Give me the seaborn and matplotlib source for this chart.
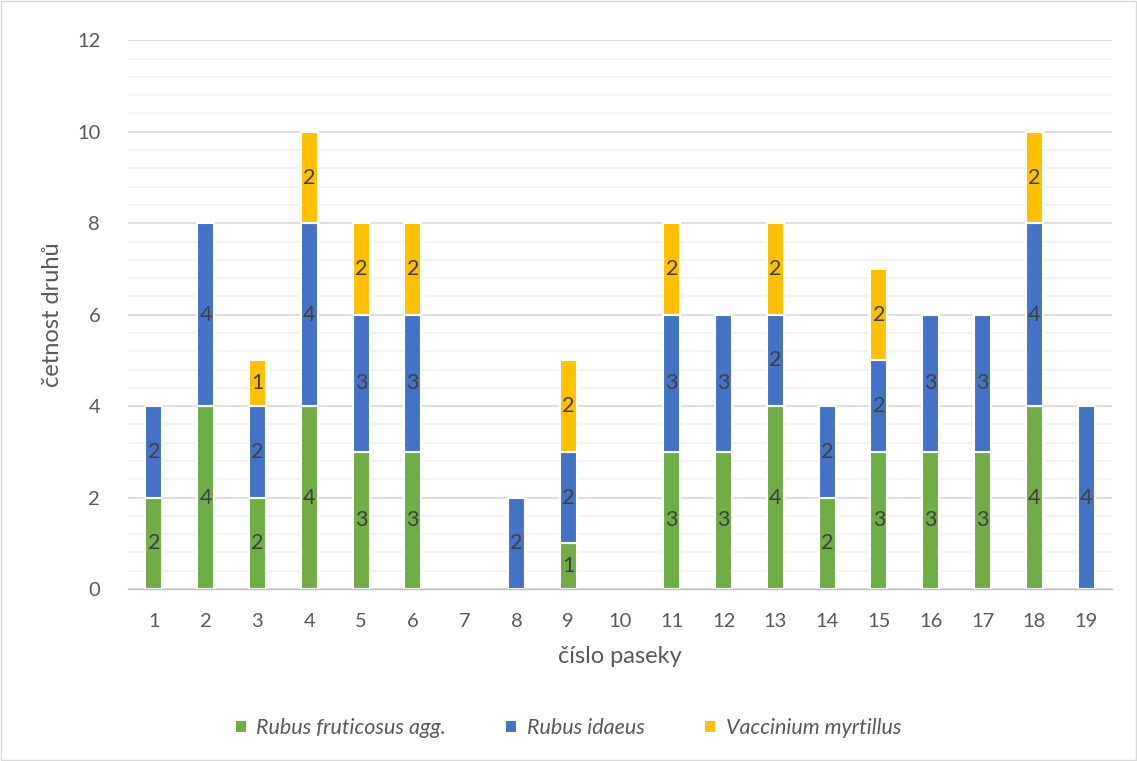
import numpy as np
import pandas as pd
import seaborn as sns
import matplotlib.pyplot as plt
from matplotlib.patches import Patch, Rectangle
from matplotlib.ticker import MultipleLocator, FixedLocator, NullFormatter

paseky = list(range(1, 20))
fruticosus = [2, 4, 2, 4, 3, 3, 0, 0, 1, 0, 3, 3, 4, 2, 3, 3, 3, 4, 0]
idaeus = [2, 4, 2, 4, 3, 3, 0, 2, 2, 0, 3, 3, 2, 2, 2, 3, 3, 4, 4]
myrtillus = [0, 0, 1, 2, 2, 2, 0, 0, 2, 0, 2, 0, 2, 0, 2, 0, 0, 2, 0]
druhy = ['Rubus fruticosus agg.', 'Rubus idaeus', 'Vaccinium myrtillus']
barvy = ['#70AD47', '#4472C4', '#FFC000']

df = pd.concat([
    pd.DataFrame({'paseka': paseky, 'pocet': fruticosus, 'druh': druhy[0]}),
    pd.DataFrame({'paseka': paseky, 'pocet': idaeus, 'druh': druhy[1]}),
    pd.DataFrame({'paseka': paseky, 'pocet': myrtillus, 'druh': druhy[2]}),
])

sns.set_style('white')
plt.rcParams['font.family'] = ['Lato', 'DejaVu Sans']
seda = '#595959'

fig = plt.figure(figsize=(11.37, 7.61), dpi=100)
ax = fig.add_axes([0.1126, 0.226, 0.8654, 0.721])

# seaborn stacks the last hue level at the bottom
sns.histplot(data=df, x='paseka', weights='pocet', hue='druh',
             hue_order=druhy[::-1], palette=dict(zip(druhy, barvy)),
             multiple='stack', discrete=True, shrink=0.33, alpha=1,
             edgecolor='white', linewidth=1.5, legend=False, ax=ax)

for cont in ax.containers:
    labs = []
    for p in cont:
        if p.get_height() > 0:
            labs.append(str(int(round(p.get_height()))))
        else:
            p.set_visible(False)
            labs.append('')
    ax.bar_label(cont, labels=labs, label_type='center', color='#404040', fontsize=15.5)

ax.set_xlim(0.5, 19.5)
ax.set_ylim(0, 12)
ax.yaxis.set_major_locator(MultipleLocator(2))
ax.yaxis.set_minor_locator(MultipleLocator(0.4))
ax.grid(which='major', axis='y', color='#D9D9D9', linewidth=1.2)
ax.grid(which='minor', axis='y', color='#F2F2F2', linewidth=1.2)
ax.set_axisbelow(True)

ax.set_xticks(paseky)
ax.xaxis.set_minor_locator(FixedLocator(np.arange(0.5, 20, 1)))
ax.xaxis.set_minor_formatter(NullFormatter())
ax.tick_params(axis='x', which='major', length=0, pad=17, labelsize=14.5, labelcolor=seda)
ax.tick_params(axis='x', which='minor', length=8, color='#BFBFBF', width=1)
ax.tick_params(axis='y', which='both', length=0, pad=20, labelsize=14.5, labelcolor=seda)

for s in ['top', 'right', 'left']:
    ax.spines[s].set_visible(False)
ax.spines['bottom'].set_color('#BFBFBF')
ax.spines['bottom'].set_linewidth(1)

ax.set_xlabel('číslo paseky', fontsize=17, color=seda, labelpad=12)
ax.set_ylabel('četnost druhů', fontsize=17, color=seda, labelpad=10)

handles = [Patch(facecolor=c, edgecolor='none', label=d) for d, c in zip(druhy, barvy)]
fig.legend(handles=handles, loc='center', bbox_to_anchor=(0.5, 0.043), ncol=3,
           frameon=False, handlelength=0.45, handleheight=0.45, handletextpad=0.5,
           columnspacing=2.8, prop={'style': 'italic', 'size': 15.5}, labelcolor=seda)

fig.patches.append(Rectangle((0.001, 0.001), 0.998, 0.998, transform=fig.transFigure,
                             fill=False, edgecolor='#D9D9D9', linewidth=1))

fig.savefig('out.png', dpi=100)
